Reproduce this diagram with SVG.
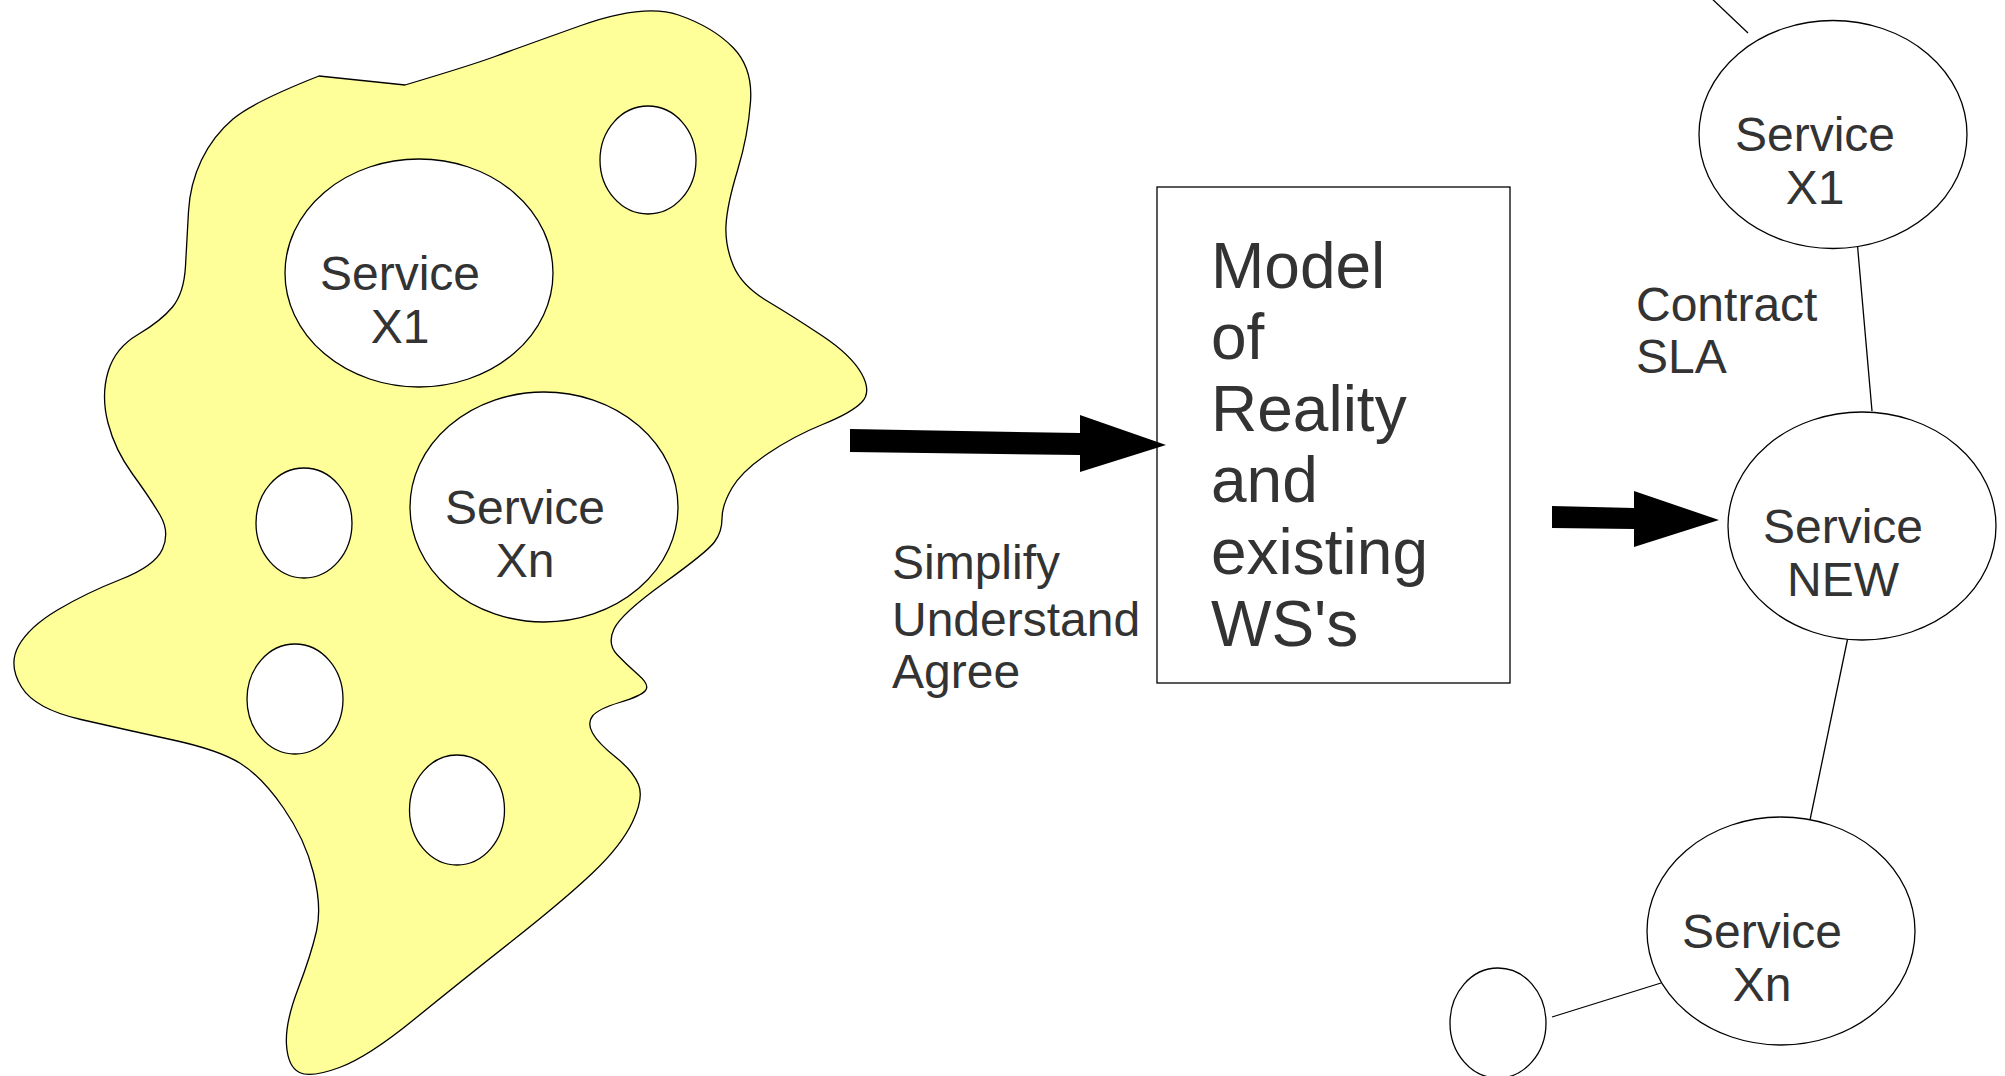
<svg xmlns="http://www.w3.org/2000/svg" width="2005" height="1076" viewBox="0 0 2005 1076">
<style>
.t{font-family:"Liberation Sans",Arial,sans-serif;fill:#333333}
.s{font-size:48px}
.b{font-size:64px}
.n{fill:#ffffff;stroke:#000000;stroke-width:1.3}
.c{stroke:#000000;stroke-width:1.3;fill:none}
.a{fill:#000000;stroke:none}
</style>
<rect x="0" y="0" width="2005" height="1076" fill="#ffffff"/>
<g id="reality">
<path d="M 319,76 L 405,85 Q 472,65 495,56.5 Q 518,48 581,25.5 Q 644,3 678.5,15 Q 713,27 733,47.5 Q 753,68 750.5,102 Q 748,136 737.5,170.5 Q 727,205 726,225.5 Q 725,246 733.5,266 Q 742,286 768,301.5 Q 794,317 822.5,336 Q 851,355 861.5,373.5 Q 872,392 861.5,402.5 Q 851,413 822.5,424.5 Q 794,436 768,453.5 Q 742,471 732,488 Q 722,505 722,518.5 Q 722,532 714.5,542 Q 707,552 664,583 Q 621,614 614,629 Q 607,644 617,654.5 Q 627,665 638.5,675 Q 650,685 645.5,690.5 Q 641,696 619.5,702.5 Q 598,709 592.5,716 Q 587,723 592.5,733 Q 598,743 615.5,757 Q 633,771 638.5,784.5 Q 644,798 632.5,822 Q 621,846 592.5,873 Q 564,900 512,941 Q 460,982 414,1019.5 Q 368,1057 339.5,1067.5 Q 311,1078 299.5,1072.5 Q 288,1067 286.5,1045 Q 285,1023 298,989 Q 311,955 316.5,931 Q 322,907 313.5,873 Q 305,839 283.5,808 Q 262,777 240.5,763.5 Q 219,750 173,740 Q 127,730 81,719.5 Q 35,709 21.5,687 Q 8,665 18.5,646 Q 29,627 57.5,610 Q 86,593 120.5,579.5 Q 155,566 162.5,549 Q 170,532 160,515 Q 150,498 132.5,474 Q 115,450 108,423 Q 101,396 108,372 Q 115,348 138,334.5 Q 161,321 172.5,307 Q 184,293 185.5,266 Q 187,239 188.5,211.5 Q 190,184 201.5,160 Q 213,136 233,119 Q 253,102 319,76 Z" fill="#ffff99" stroke="#000000" stroke-width="1.3"/>
</g>
<g id="left-x1">
<ellipse class="n" cx="419" cy="273" rx="134" ry="114"/>
<text class="t s" text-anchor="middle" x="400" y="289.5">Service</text>
<text class="t s" text-anchor="middle" x="400" y="342.5">X1</text>
</g>
<g id="left-xn">
<ellipse class="n" cx="544" cy="507" rx="134" ry="115"/>
<text class="t s" text-anchor="middle" x="525" y="523.5">Service</text>
<text class="t s" text-anchor="middle" x="525" y="576.5">Xn</text>
</g>
<g id="left-c1"><ellipse class="n" cx="648" cy="160" rx="48" ry="54"/></g>
<g id="left-c2"><ellipse class="n" cx="304" cy="523" rx="48" ry="55"/></g>
<g id="left-c3"><ellipse class="n" cx="295" cy="699" rx="48" ry="55"/></g>
<g id="left-c4"><ellipse class="n" cx="457" cy="810" rx="47.5" ry="55"/></g>
<g id="model">
<rect x="1157" y="187" width="353" height="496" fill="#ffffff" stroke="#000000" stroke-width="1.3"/>
<text class="t b" x="1211" y="288">Model</text>
<text class="t b" x="1211" y="359">of</text>
<text class="t b" x="1211" y="431">Reality</text>
<text class="t b" x="1211" y="502">and</text>
<text class="t b" x="1211" y="574">existing</text>
<text class="t b" x="1211" y="646">WS's</text>
</g>
<g id="label-simplify">
<text class="t s" x="892" y="578.5">Simplify</text>
<text class="t s" x="892" y="635.5">Understand</text>
<text class="t s" x="892" y="687.5">Agree</text>
</g>
<g id="label-contract">
<text class="t s" x="1636" y="320.5">Contract</text>
<text class="t s" x="1636" y="372.5">SLA</text>
</g>
<g id="connectors">
<polygon class="a" points="850,429 1080,433 1080,415 1166,445 1080,472 1080,455 850,452"/>
<polygon class="a" points="1552,506 1634,508 1634,491 1719,520 1634,547 1634,529 1552,528"/>
<line class="c" x1="1708" y1="-5" x2="1748" y2="33"/>
<line class="c" x1="1857" y1="240" x2="1872" y2="411"/>
<line class="c" x1="1848" y1="637" x2="1810" y2="820"/>
<line class="c" x1="1661" y1="983" x2="1552" y2="1017"/>
</g>
<g id="right-x1">
<ellipse class="n" cx="1833" cy="134.5" rx="134" ry="114"/>
<text class="t s" text-anchor="middle" x="1815" y="150.5">Service</text>
<text class="t s" text-anchor="middle" x="1815" y="203.5">X1</text>
</g>
<g id="right-new">
<ellipse class="n" cx="1862" cy="526" rx="134" ry="114"/>
<text class="t s" text-anchor="middle" x="1843" y="542.5">Service</text>
<text class="t s" text-anchor="middle" x="1843" y="595.5">NEW</text>
</g>
<g id="right-xn">
<ellipse class="n" cx="1781" cy="931" rx="134" ry="114"/>
<text class="t s" text-anchor="middle" x="1762" y="947.5">Service</text>
<text class="t s" text-anchor="middle" x="1762" y="1000.5">Xn</text>
</g>
<g id="right-c1"><ellipse class="n" cx="1498" cy="1023" rx="48" ry="55"/></g>
</svg>
